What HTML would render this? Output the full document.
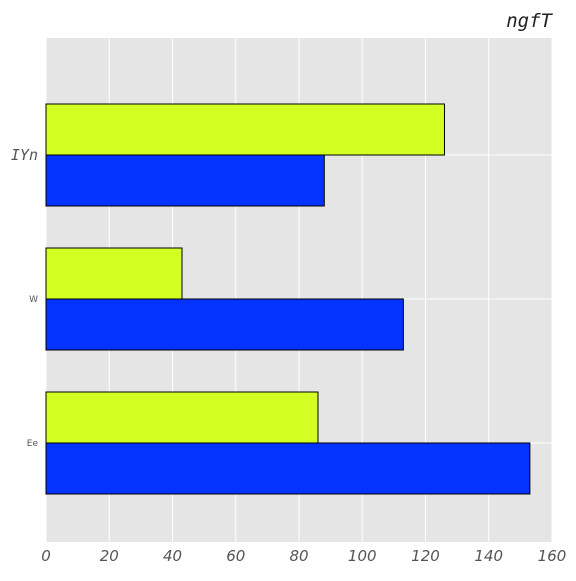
<!DOCTYPE html>
<html><head><meta charset="utf-8"><style>
body{margin:0;background:#fff;width:576px;height:576px;overflow:hidden}
</style></head><body>
<svg id="chart" width="576" height="576" xmlns="http://www.w3.org/2000/svg">
<rect x="46" y="38" width="506" height="504" fill="#e5e5e5"/>
<g id="grid"></g><g id="bars"></g><g id="xt"></g><g id="yt"></g>
<text x="552" y="27" text-anchor="end" font-size="19" font-style="italic" fill="#222" style="font-family:'DejaVu Sans Mono',monospace">ngfT</text>
</svg>
<script>
const categories=["Ee","W","IYn"];
const seriesYellow=[86,43,126];
const seriesBlue=[153,113,88];
const xTicks=[0,20,40,60,80,100,120,140,160];
const NS="http://www.w3.org/2000/svg";
const x0=46,x1=552,y0=38,y1=542,xmax=160;
const xs=v=>x0+v/xmax*(x1-x0);
const yc=i=>443-i*144;
function mk(tag,attrs,parent,txt){const e=document.createElementNS(NS,tag);for(const k in attrs)e.setAttribute(k,attrs[k]);if(txt!==undefined)e.textContent=txt;document.getElementById(parent).appendChild(e);return e;}
xTicks.forEach(t=>{
 const l=mk('line',{x1:xs(t),x2:xs(t),y1:y0,y2:y1,stroke:'#fff','stroke-width':1},'grid');
 
 
 const tx=mk('text',{x:xs(t),y:561,'text-anchor':'middle','font-size':15,'font-style':'italic',fill:'#555',style:"font-family:'DejaVu Sans',sans-serif"},'xt',t);
 
 
});
categories.forEach((c,i)=>{
 const l=mk('line',{x1:x0,x2:x1,y1:yc(i),y2:yc(i),stroke:'#fff','stroke-width':1},'grid');
 
 
 const by=mk('rect',{x:x0,y:yc(i)-51,width:xs(seriesYellow[i])-x0,height:51,fill:'#d4ff22',stroke:'#000','stroke-width':1},'bars');
 
 
 const bb=mk('rect',{x:x0,y:yc(i),width:xs(seriesBlue[i])-x0,height:51,fill:'#0433ff',stroke:'#000','stroke-width':1},'bars');
 
 
 const big=c==="IYn";
 const tx=mk('text',{x:38,y:yc(i)+(big?5:3),'text-anchor':'end','font-size':big?15:9,'font-style':big?'italic':'normal',fill:'#555',style:big?"font-family:'DejaVu Sans Mono',monospace":"font-family:'DejaVu Sans',sans-serif"},'yt',c);
 
 
});
</script>
</body></html>
